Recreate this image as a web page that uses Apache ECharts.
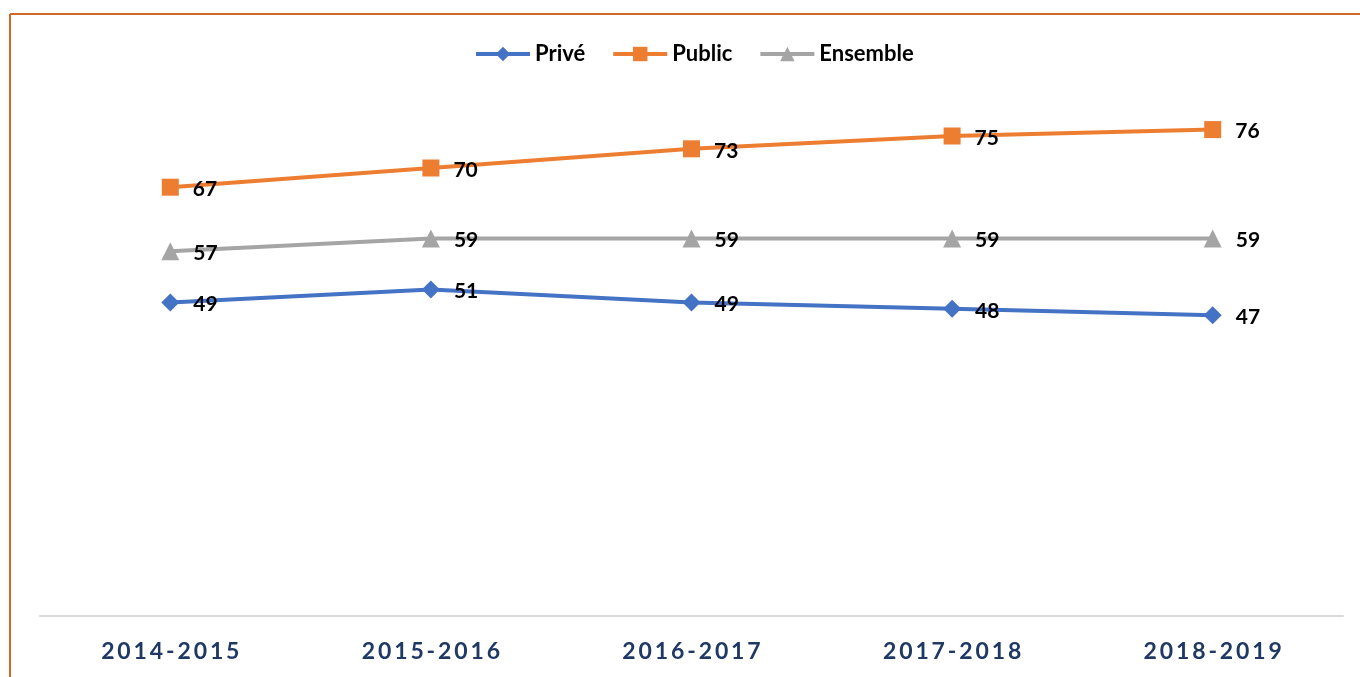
<!DOCTYPE html>
<html>
<head>
<meta charset="utf-8">
<script src="https://cdn.jsdelivr.net/npm/echarts@6/dist/echarts.min.js"></script>
<style>
  html, body { margin: 0; padding: 0; background: #fff; }
  #chart { width: 1360px; height: 677px; }
</style>
</head>
<body>
<div id="chart"></div>
<script>
// data
var annees = ['2014-2015', '2015-2016', '2016-2017', '2017-2018', '2018-2019']
var prive = [49, 51, 49, 48, 47]
var public_ = [67, 70, 73, 75, 76]
var ensemble = [57, 59, 59, 59, 59]

var chart = echarts.init(document.getElementById('chart'))

var labelStyle = {
  show: true,
  position: 'right',
  distance: 14,
  color: '#000',
  fontFamily: 'Lato',
  fontWeight: 'bold',
  fontSize: 21,
  offset: [0, 2]
}

function serie(name, data, color, symbol, size) {
  return {
    name: name,
    type: 'line',
    data: data,
    symbol: symbol,
    symbolSize: size,
    itemStyle: { color: color },
    lineStyle: { color: color, width: 4 },
    label: labelStyle,
    animation: false
  }
}

chart.setOption({
  backgroundColor: '#fff',
  graphic: [
    { type: 'line', shape: { x1: 10, y1: 14, x2: 1360, y2: 14 }, style: { stroke: '#D2692A', lineWidth: 2 } },
    { type: 'line', shape: { x1: 10, y1: 14, x2: 10, y2: 677 }, style: { stroke: '#D2692A', lineWidth: 2 } }
  ],
  legend: {
    top: 38,
    left: 469,
    itemWidth: 54,
    itemHeight: 18,
    itemGap: 26,
    lineStyle: { width: 4 },
    textStyle: { fontFamily: 'Lato', fontWeight: 'bold', fontSize: 22, color: '#000' },
    data: ['Privé', 'Public', 'Ensemble']
  },
  grid: { left: 40, right: 17, top: 104, bottom: 61, containLabel: false },
  xAxis: {
    type: 'category',
    data: annees,
    boundaryGap: true,
    axisLine: { lineStyle: { color: '#D9D9D9', width: 2 } },
    axisTick: { show: false },
    axisLabel: {
      margin: 24,
      color: '#1F3864',
      fontFamily: 'Lato',
      fontWeight: 'bold',
      fontSize: 23,
      formatter: function (v) { return v.split('').join('\u2009') }
    }
  },
  yAxis: {
    type: 'value',
    min: 0,
    max: 80,
    show: false,
    splitLine: { show: false }
  },
  series: [
    serie('Privé', prive, '#4472C4', 'diamond', 18),
    serie('Public', public_, '#ED7D31', 'rect', 17),
    serie('Ensemble', ensemble, '#A5A5A5', 'triangle', 18)
  ]
})
</script>
</body>
</html>
